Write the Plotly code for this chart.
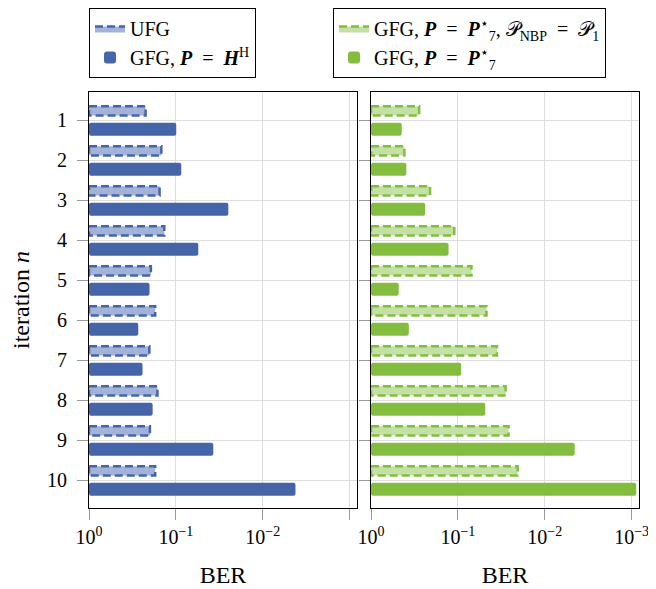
import plotly.graph_objects as go

# ---------------- data ----------------
iterations = [1, 2, 3, 4, 5, 6, 7, 8, 9, 10]

ber_ufg = [0.223, 0.147, 0.154, 0.136, 0.194, 0.173, 0.202, 0.163, 0.199, 0.173]
ber_gfg_hh = [0.099, 0.0867, 0.0249, 0.0552, 0.201, 0.271, 0.242, 0.185, 0.0371, 0.0042]

ber_gfg_p7_nbp1 = [0.279, 0.413, 0.209, 0.110, 0.0697, 0.0468, 0.0355, 0.0282, 0.0261, 0.0205]
ber_gfg_p7 = [0.443, 0.392, 0.238, 0.128, 0.480, 0.367, 0.0916, 0.0484, 0.00452, 0.000885]

x_tickvals = [1, 0.1, 0.01, 0.001]
x_ticktext_left = ["10<sup>0</sup>", "10<sup>−1</sup>", "10<sup>−2</sup>", ""]
x_ticktext_right = ["10<sup>0</sup>", "10<sup>−1</sup>", "10<sup>−2</sup>", "10<sup>−3</sup>"]

EQ = "\u2002=\u2002"
name_ufg = "UFG"
name_gfg_hh = f"GFG, <b><i>P</i></b>{EQ}<b><i>H</i></b><sup>H</sup>"
name_gfg_p7_nbp1 = (f"GFG, <b><i>P</i></b>{EQ}<b><i>P</i></b><sup>⋆</sup><sub>7</sub>, "
                    f"𝒫<sub>NBP</sub>{EQ}𝒫<sub>1</sub>")
name_gfg_p7 = f"GFG, <b><i>P</i></b>{EQ}<b><i>P</i></b><sup>⋆</sup><sub>7</sub>"

# ---------------- style ----------------
# the page body has an 8px margin, so the figure is drawn 8px in from the window corner
OFF = 8
W, H = 656 - OFF, 589 - OFF
FONT = "Liberation Serif"
BLUE = "#4565ab"
BLUE_L = "#a3b2d8"
GREEN = "#82bd3e"
GREEN_L = "#c3e1a5"
GRID = "#dedede"
TICK = "#9a9a9a"


def fx(px):
    return (px - OFF) / W


def fy(py):
    return 1 - (py - OFF) / H


dash_center = 0.229   # offset of dashed bar centre above category
dash_half = 0.117     # half height of dashed bar outline
solid_off = 0.0675
solid_w = 0.325


def dashed_poly(vals):
    xs, ys = [], []
    for n, v in zip(iterations, vals):
        c = n - dash_center
        xs += [1, v, v, 1, 1, None]
        ys += [c - dash_half, c - dash_half, c + dash_half, c + dash_half, c - dash_half, None]
    return xs, ys


fig = go.Figure()

# left panel
xs, ys = dashed_poly(ber_ufg)
fig.add_trace(go.Scatter(x=xs, y=ys, mode="lines", fill="toself", fillcolor=BLUE_L,
                         line=dict(color=BLUE, width=2.5, dash="8px,4px"),
                         name=name_ufg, legend="legend", legendgroup="a", xaxis="x", yaxis="y",
                         hoverinfo="skip"))
fig.add_trace(go.Bar(y=iterations, x=[v - 1 for v in ber_gfg_hh], base=1, orientation="h",
                     width=solid_w, offset=solid_off,
                     marker=dict(color=BLUE, line=dict(width=0), cornerradius=2),
                     name=name_gfg_hh, legend="legend", legendgroup="b", xaxis="x", yaxis="y"))

# right panel
xs, ys = dashed_poly(ber_gfg_p7_nbp1)
fig.add_trace(go.Scatter(x=xs, y=ys, mode="lines", fill="toself", fillcolor=GREEN_L,
                         line=dict(color=GREEN, width=2.5, dash="8px,4px"),
                         name=name_gfg_p7_nbp1, legend="legend2", legendgroup="c",
                         xaxis="x2", yaxis="y2", hoverinfo="skip"))
fig.add_trace(go.Bar(y=iterations, x=[v - 1 for v in ber_gfg_p7], base=1, orientation="h",
                     width=solid_w, offset=solid_off,
                     marker=dict(color=GREEN, line=dict(width=0), cornerradius=2),
                     name=name_gfg_p7, legend="legend2", legendgroup="d",
                     xaxis="x2", yaxis="y2"))

xrange = [0, -3.085]
yrange = [10.7, 0.3]
ydom = [fy(508), fy(92)]

common_x = dict(type="log", range=xrange, tickvals=x_tickvals, ticks="outside", ticklen=11,
                tickcolor=TICK, tickwidth=1, showgrid=True, gridcolor=GRID, gridwidth=1.2,
                showline=True, linecolor="black", linewidth=1.2, mirror=True, automargin=False,
                tickfont=dict(family=FONT, size=20, color="black"),
                title=dict(text="BER", font=dict(family=FONT, size=24, color="black"), standoff=19),
                zeroline=False)
common_y = dict(range=yrange, tickvals=iterations, ticks="outside", ticklen=11, tickcolor=TICK,
                tickwidth=1, showgrid=True, gridcolor=GRID, gridwidth=1.2, showline=True,
                linecolor="black", linewidth=1.2, mirror=True, domain=ydom, zeroline=False,
                automargin=False, tickfont=dict(family=FONT, size=20, color="black"))

legend_common = dict(y=1.0, xanchor="left", yanchor="top", bgcolor="white",
                     bordercolor="black", borderwidth=1, font=dict(family=FONT, size=20),
                     traceorder="normal", tracegroupgap=4)

fig.update_layout(
    width=W, height=H,
    margin=dict(l=0, r=0, t=0, b=0, autoexpand=False),
    paper_bgcolor="white", plot_bgcolor="white",
    font=dict(family=FONT, size=20, color="black"),
    barmode="overlay",
    xaxis=dict(**common_x, domain=[fx(89), fx(357)], anchor="y", ticktext=x_ticktext_left),
    yaxis=dict(**common_y, anchor="x", ticklabelstandoff=6,
               title=dict(text="iteration <i>n</i>", font=dict(family=FONT, size=24, color="black"),
                          standoff=12)),
    xaxis2=dict(**common_x, domain=[fx(371), fx(639)], anchor="y2", ticktext=x_ticktext_right),
    yaxis2=dict(**common_y, anchor="x2", showticklabels=False),
    legend=dict(**legend_common, x=fx(89)),
    legend2=dict(**legend_common, x=fx(333)),
    showlegend=True,
)

fig.write_html("out.html")
